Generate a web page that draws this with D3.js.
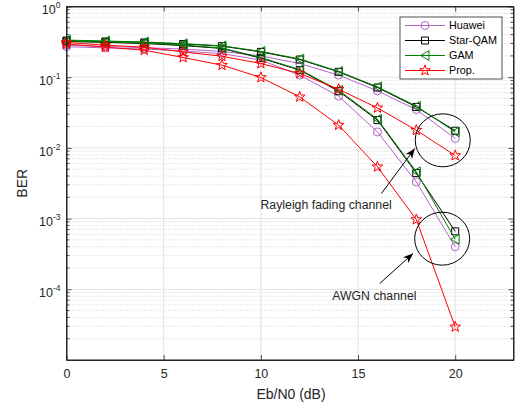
<!DOCTYPE html>
<html>
<head>
<meta charset="utf-8">
<script src="https://cdn.jsdelivr.net/npm/d3@7"></script>
<style>
  html, body { margin: 0; padding: 0; background: #fff; }
  svg { display: block; font-family: "Liberation Sans", Arial, sans-serif; }
</style>
</head>
<body>
<div id="chart"></div>
<script>
// Eb/N0 points (dB)
const ebn0 = [0, 2, 4, 6, 8, 10, 12, 14, 16, 18, 20];

// BER, Rayleigh fading channel (upper group)
const huaweiRay = [0.285, 0.272, 0.262, 0.25, 0.232, 0.2, 0.156, 0.107, 0.064, 0.0349, 0.0136];
const starRay   = [0.33, 0.32, 0.31, 0.295, 0.275, 0.228, 0.178, 0.119, 0.0715, 0.038, 0.0175];
const gamRay    = [0.335, 0.325, 0.315, 0.298, 0.278, 0.232, 0.181, 0.121, 0.073, 0.039, 0.0168];
const propRay   = [0.31, 0.284, 0.266, 0.228, 0.198, 0.156, 0.113, 0.0676, 0.0368, 0.0178, 0.0078];

// AWGN channel (lower group)
const huaweiAwgn = [0.27, 0.26, 0.25, 0.235, 0.215, 0.175, 0.107, 0.054, 0.0168, 0.0033, 0.0004];
const starAwgn   = [0.32, 0.31, 0.3, 0.28, 0.255, 0.186, 0.126, 0.0634, 0.0247, 0.0044, 0.00066];
const gamAwgn    = [0.325, 0.315, 0.305, 0.285, 0.258, 0.19, 0.128, 0.0655, 0.0255, 0.0046, 0.00051];
const propAwgn   = [0.295, 0.266, 0.241, 0.19, 0.148, 0.099, 0.0527, 0.021, 0.0054, 0.00097, 0.0000294];

const xTicks = [0, 5, 10, 15, 20];
const yTicks = [1e-4, 1e-3, 1e-2, 1e-1, 1];
const legendNames = ["Huawei", "Star-QAM", "GAM", "Prop."];

const series = [
  { name: "Huawei",   color: "#b463c8", marker: "circle",   data: [huaweiRay, huaweiAwgn] },
  { name: "Star-QAM", color: "#000000", marker: "square",   data: [starRay, starAwgn] },
  { name: "GAM",      color: "#008000", marker: "triangle", data: [gamRay, gamAwgn] },
  { name: "Prop.",    color: "#ff0000", marker: "star",     data: [propRay, propAwgn] },
];

const W = 516, H = 406;
const margin = { top: 6.5, right: 2.5, bottom: 46, left: 66.5 };
const iw = W - margin.left - margin.right;
const ih = H - margin.top - margin.bottom;
const axisColor = "#262626";

const x = d3.scaleLinear().domain([0, 23]).range([0, iw]);
const y = d3.scaleLog().domain([1e-5, 1]).range([ih, 0]);

const svg = d3.select("#chart").append("svg")
  .attr("width", W).attr("height", H);
const g = svg.append("g").attr("transform", `translate(${margin.left},${margin.top})`);

// minor log positions
const minors = [];
for (let e = -5; e < 0; e++) for (let k = 2; k <= 9; k++) minors.push(k * Math.pow(10, e));

// grid
g.append("g").selectAll("line").data(minors).join("line")
  .attr("x1", 0).attr("x2", iw)
  .attr("y1", d => y(d)).attr("y2", d => y(d))
  .attr("stroke", "#c8c8c8").attr("stroke-width", 0.8).attr("stroke-dasharray", "1,2");
g.append("g").selectAll("line").data([1e-5, 1e-4, 1e-3, 1e-2, 1e-1]).join("line")
  .attr("x1", 0).attr("x2", iw)
  .attr("y1", d => y(d)).attr("y2", d => y(d))
  .attr("stroke", "#e3e3e3").attr("stroke-width", 1);
g.append("g").selectAll("line").data(xTicks.filter(d => d > 0)).join("line")
  .attr("y1", 0).attr("y2", ih)
  .attr("x1", d => x(d)).attr("x2", d => x(d))
  .attr("stroke", "#e3e3e3").attr("stroke-width", 1);

// markers
function star(r, ri) {
  const pts = [];
  for (let i = 0; i < 10; i++) {
    const a = -Math.PI / 2 + i * Math.PI / 5;
    const rr = i % 2 ? ri : r;
    pts.push([rr * Math.cos(a), rr * Math.sin(a)]);
  }
  return "M" + pts.map(p => p[0].toFixed(2) + "," + p[1].toFixed(2)).join("L") + "Z";
}
const markerPath = {
  circle: "M4,0A4,4 0 1,1 -4,0A4,4 0 1,1 4,0Z",
  square: "M-3.5,-3.5H3.5V3.5H-3.5Z",
  triangle: "M-4.5,0L4,-4.8L4,4.8Z",
  star: star(5.6, 2.3),
};

const line = d3.line().x(d => x(d[0])).y(d => y(d[1]));

series.forEach(s => {
  s.data.forEach(vals => {
    const pts = ebn0.map((e, i) => [e, vals[i]]);
    g.append("path").datum(pts)
      .attr("d", line).attr("fill", "none")
      .attr("stroke", s.color).attr("stroke-width", 1);
    g.append("g").selectAll("path").data(pts).join("path")
      .attr("transform", d => `translate(${x(d[0])},${y(d[1])})`)
      .attr("d", markerPath[s.marker])
      .attr("fill", "none").attr("stroke", s.color).attr("stroke-width", 1);
  });
});

// axes (box with inward ticks)
const tickFont = "12.5px";
g.append("g").attr("transform", `translate(0,${ih})`)
  .call(d3.axisBottom(x).tickValues(xTicks).tickSizeInner(-5).tickSizeOuter(0).tickPadding(9));
g.append("g").call(d3.axisTop(x).tickValues(xTicks).tickSizeInner(-5).tickSizeOuter(0).tickFormat(""));

const yAxis = g.append("g")
  .call(d3.axisLeft(y).tickValues(yTicks).tickSizeInner(-5).tickSizeOuter(0).tickPadding(6).tickFormat(() => ""));
g.append("g").attr("transform", `translate(${iw},0)`)
  .call(d3.axisRight(y).tickValues(yTicks).tickSizeInner(-5).tickSizeOuter(0).tickFormat(""));

// minor y ticks on both sides
[0, iw].forEach(px => {
  g.append("g").selectAll("line").data(minors).join("line")
    .attr("x1", px).attr("x2", px === 0 ? 3 : iw - 3)
    .attr("y1", d => y(d)).attr("y2", d => y(d))
    .attr("stroke", axisColor).attr("stroke-width", 0.8);
});

g.selectAll(".domain").attr("stroke", axisColor).attr("stroke-width", 1);
g.selectAll(".tick line").attr("stroke", axisColor).attr("stroke-width", 0.8);
g.selectAll(".tick text").attr("fill", axisColor).style("font-size", tickFont)
  .style("font-family", '"Liberation Sans", Arial, sans-serif');

g.append("rect").attr("width", iw).attr("height", ih)
  .attr("fill", "none").attr("stroke", axisColor).attr("stroke-width", 1);

// y tick labels as 10^k
yAxis.selectAll(".tick text").each(function(d) {
  const t = d3.select(this);
  t.text(null).attr("dy", "0.59em");
  t.append("tspan").text("10");
  t.append("tspan").attr("dy", "-6").style("font-size", "8.5px").text(Math.round(Math.log10(d)));
});

// axis labels
svg.append("text")
  .attr("x", margin.left + iw / 2 + 1).attr("y", 399)
  .attr("text-anchor", "middle").attr("fill", axisColor).style("font-size", "14px")
  .text("Eb/N0 (dB)");
svg.append("text")
  .attr("transform", `translate(26.5,${margin.top + ih / 2 + 0}) rotate(-90)`)
  .attr("text-anchor", "middle").attr("fill", axisColor).style("font-size", "14px")
  .text("BER");

// annotations: circles, arrows, text (placed in data coords)
svg.append("defs").append("marker")
  .attr("id", "arr").attr("viewBox", "-10 -5 12 10")
  .attr("refX", 0).attr("refY", 0)
  .attr("markerWidth", 12).attr("markerHeight", 10)
  .attr("markerUnits", "userSpaceOnUse").attr("orient", "auto")
  .append("path").attr("d", "M0,0L-10,-4L-7,0L-10,4Z").attr("fill", "#000");

const ann = g.append("g");
[[19.36, 0.0128], [19.33, 0.00052]].forEach(c => {
  ann.append("ellipse")
    .attr("cx", x(c[0])).attr("cy", y(c[1]))
    .attr("rx", 27.5).attr("ry", 26.5)
    .attr("fill", "none").attr("stroke", "#000").attr("stroke-width", 1);
});
[[[16.2, 0.00226], [17.92, 0.0098]], [[16.12, 0.000121], [17.83, 0.000321]]].forEach(a => {
  ann.append("line")
    .attr("x1", x(a[0][0])).attr("y1", y(a[0][1]))
    .attr("x2", x(a[1][0])).attr("y2", y(a[1][1]))
    .attr("stroke", "#000").attr("stroke-width", 1)
    .attr("marker-end", "url(#arr)");
});
ann.append("text")
  .attr("x", x(9.98)).attr("y", y(0.00155)).attr("dy", "0.35em")
  .attr("fill", axisColor).style("font-size", "12.3px")
  .text("Rayleigh fading channel");
ann.append("text")
  .attr("x", x(13.67)).attr("y", y(0.00008)).attr("dy", "0.35em")
  .attr("fill", axisColor).style("font-size", "12.3px")
  .text("AWGN channel");

// legend
const lg = svg.append("g").attr("transform", "translate(400,17)");
lg.append("rect").attr("width", 102).attr("height", 62)
  .attr("fill", "#fff").attr("stroke", axisColor).attr("stroke-width", 0.8);
series.forEach((s, i) => {
  const row = lg.append("g").attr("transform", `translate(0,${8.5 + i * 15})`);
  row.append("line").attr("x1", 5).attr("x2", 45)
    .attr("stroke", s.color).attr("stroke-width", 1);
  row.append("path").attr("transform", "translate(25,0)")
    .attr("d", markerPath[s.marker])
    .attr("fill", "none").attr("stroke", s.color).attr("stroke-width", 1);
  row.append("text").attr("x", 49).attr("dy", "0.35em")
    .attr("fill", "#000").style("font-size", "10.8px")
    .text(legendNames[i]);
});
</script>
</body>
</html>
